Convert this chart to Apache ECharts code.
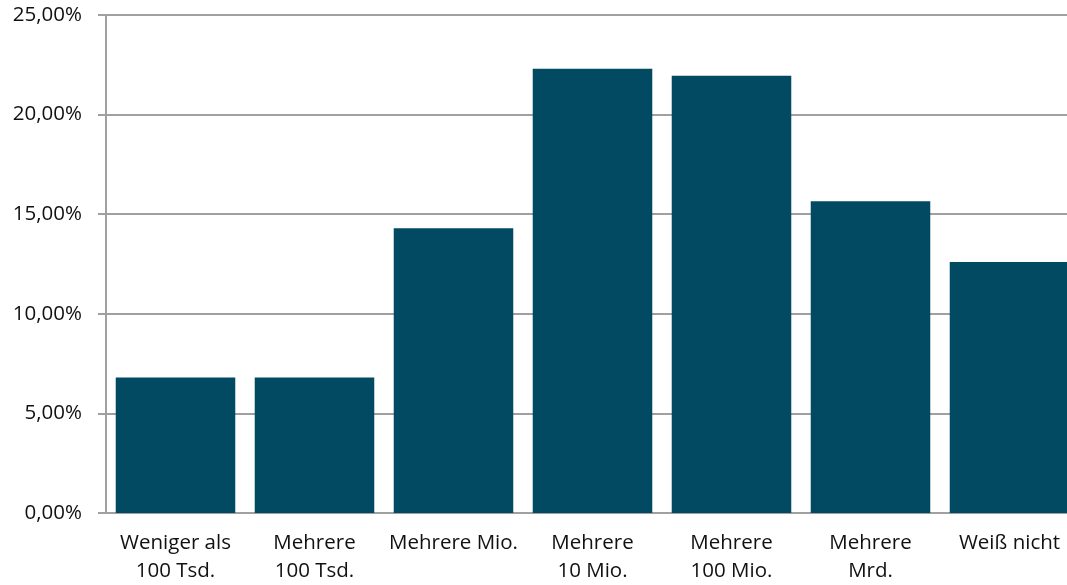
<!DOCTYPE html>
<html>
<head>
<meta charset="utf-8">
<script src="https://cdn.jsdelivr.net/npm/echarts@6/dist/echarts.min.js"></script>
<style>
  html, body { margin: 0; padding: 0; background: #fff; overflow: hidden; }
  /* the original plot area runs past the right edge of the picture */
  #chart { width: 1079px; height: 585px; }
</style>
</head>
<body>
<div id="chart"></div>
<script>
// categories (line breaks as in the original)
const categories = [
  'Weniger als\n100 Tsd.',
  'Mehrere\n100 Tsd.',
  'Mehrere Mio.',
  'Mehrere\n10 Mio.',
  'Mehrere\n100 Mio.',
  'Mehrere\nMrd.',
  'Weiß nicht'
];
// share in percent
const shares = [6.8, 6.8, 14.3, 22.3, 21.95, 15.65, 12.6];

const chart = echarts.init(document.getElementById('chart'));
chart.setOption({
  animation: false,
  textStyle: { fontFamily: 'Open Sans' },
  grid: { left: 106, right: 0, top: 15, bottom: 71 },
  xAxis: {
    type: 'category',
    data: categories,
    axisLine: { lineStyle: { color: '#a0a0a0', width: 2 } },
    axisTick: { length: 7, lineStyle: { color: '#a0a0a0', width: 2 } },
    axisLabel: { interval: 0, color: '#111', fontSize: 20.5, lineHeight: 28, margin: 16 }
  },
  yAxis: {
    type: 'value',
    min: 0,
    max: 25,
    interval: 5,
    axisLine: { show: true, lineStyle: { color: '#a0a0a0', width: 2 } },
    axisTick: { show: true, length: 8, lineStyle: { color: '#a0a0a0', width: 2 } },
    splitLine: { lineStyle: { color: '#a0a0a0', width: 2 } },
    axisLabel: {
      color: '#111',
      fontSize: 20.5,
      margin: 24,
      formatter: v => v.toFixed(2).replace('.', ',') + '%'
    }
  },
  series: [{
    type: 'bar',
    data: shares,
    barCategoryGap: '14%',
    itemStyle: { color: '#024a62' }
  }]
});
</script>
</body>
</html>
